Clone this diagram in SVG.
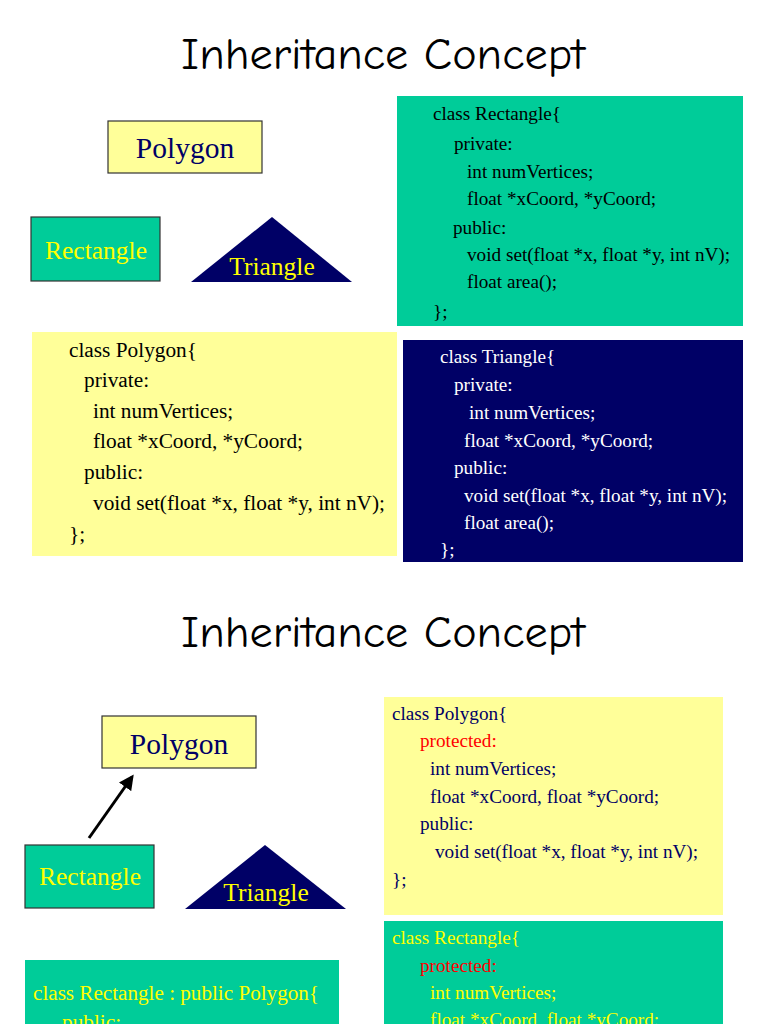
<svg xmlns="http://www.w3.org/2000/svg" width="768" height="1024" viewBox="0 0 768 1024">
<defs>
<style>
.title{font-family:"Comic Neue","DejaVu Sans","Liberation Sans",sans-serif;font-size:44px;fill:#000;text-anchor:middle}
.code{font-family:"Liberation Serif","Times New Roman",serif;font-size:19.2px}
.big{font-size:21.3px}
.lbl{font-family:"Liberation Serif","Times New Roman",serif;text-anchor:middle}
.yel{fill:#FFFF99}
.grn{fill:#00CC99}
.nav{fill:#000066}
.box{stroke:#333;stroke-width:1.2}
</style>
<marker id="ah" viewBox="0 0 10 10" refX="8" refY="5" markerWidth="5" markerHeight="5" orient="auto">
<path d="M0,0 L10,5 L0,10 z" fill="#000"/>
</marker>
</defs>
<rect width="768" height="1024" fill="#fff"/>

<text class="title" x="383" y="69" textLength="404" lengthAdjust="spacingAndGlyphs">Inheritance Concept</text>

<g id="polygon1">
<rect class="yel box" x="108" y="121" width="154" height="52"/>
<text class="lbl" x="185" y="158" font-size="29.5" fill="#000066">Polygon</text>
</g>
<g id="rectangle1">
<rect class="grn box" x="31" y="217" width="129" height="64"/>
<text class="lbl" x="96" y="259" font-size="25.5" fill="#FFFF00">Rectangle</text>
</g>
<g id="triangle1">
<polygon class="nav" points="191,282 272,217 352,282"/>
<text class="lbl" x="272" y="275" font-size="25.5" fill="#FFFF00">Triangle</text>
</g>

<g id="rectcode1">
<rect class="grn" x="397" y="96" width="346" height="230"/>
<g class="code" fill="#000">
<text x="433" y="120">class Rectangle{</text>
<text x="454" y="150">private:</text>
<text x="467" y="178">int numVertices;</text>
<text x="467" y="205">float *xCoord, *yCoord;</text>
<text x="453" y="234">public:</text>
<text x="467" y="261">void set(float *x, float *y, int nV);</text>
<text x="467" y="288">float area();</text>
<text x="433" y="318">};</text>
</g>
</g>

<g id="polycode1">
<rect class="yel" x="32" y="332" width="365" height="224"/>
<g class="code big" fill="#000">
<text x="69" y="357">class Polygon{</text>
<text x="84" y="387">private:</text>
<text x="93" y="418">int numVertices;</text>
<text x="93" y="448">float *xCoord, *yCoord;</text>
<text x="84" y="479">public:</text>
<text x="93" y="510">void set(float *x, float *y, int nV);</text>
<text x="69" y="541">};</text>
</g>
</g>

<g id="tricode1">
<rect class="nav" x="403" y="340" width="340" height="222"/>
<g class="code" fill="#fff">
<text x="440" y="363">class Triangle{</text>
<text x="454" y="391">private:</text>
<text x="469" y="419">int numVertices;</text>
<text x="464" y="447">float *xCoord, *yCoord;</text>
<text x="454" y="474">public:</text>
<text x="464" y="502">void set(float *x, float *y, int nV);</text>
<text x="464" y="529">float area();</text>
<text x="440" y="556">};</text>
</g>
</g>

<text class="title" x="383" y="647" textLength="404" lengthAdjust="spacingAndGlyphs">Inheritance Concept</text>

<g id="polygon2">
<rect class="yel box" x="102" y="716" width="154" height="52"/>
<text class="lbl" x="179" y="754" font-size="29.5" fill="#000066">Polygon</text>
</g>
<g id="rectangle2">
<rect class="grn box" x="25" y="845" width="129" height="63"/>
<text class="lbl" x="90" y="885" font-size="25.5" fill="#FFFF00">Rectangle</text>
</g>
<g id="triangle2">
<polygon class="nav" points="185,909 265,845 346,909"/>
<text class="lbl" x="266" y="901" font-size="25.5" fill="#FFFF00">Triangle</text>
</g>

<g id="connectors">
<line x1="89" y1="838" x2="132" y2="777" stroke="#000" stroke-width="3" marker-end="url(#ah)"/>
</g>

<g id="polycode2">
<rect class="yel" x="384" y="697" width="339" height="218"/>
<g class="code" fill="#000066">
<text x="392" y="720">class Polygon{</text>
<text x="420" y="747" fill="#FF0000">protected:</text>
<text x="430" y="775">int numVertices;</text>
<text x="430" y="803">float *xCoord, float *yCoord;</text>
<text x="420" y="830">public:</text>
<text x="435" y="858">void set(float *x, float *y, int nV);</text>
<text x="392" y="886">};</text>
</g>
</g>

<g id="rectcode2">
<rect class="grn" x="384" y="921" width="339" height="110"/>
<g class="code" fill="#FFFF00">
<text x="392" y="944">class Rectangle{</text>
<text x="420" y="972" fill="#FF0000">protected:</text>
<text x="430" y="999">int numVertices;</text>
<text x="430" y="1026">float *xCoord, float *yCoord;</text>
</g>
</g>

<g id="rectderived">
<rect class="grn" x="25" y="960" width="314" height="70"/>
<g class="code big" fill="#FFFF00">
<text x="33" y="1000" textLength="286" lengthAdjust="spacingAndGlyphs">class Rectangle : public Polygon{</text>
<text x="62" y="1029">public:</text>
</g>
</g>
</svg>
